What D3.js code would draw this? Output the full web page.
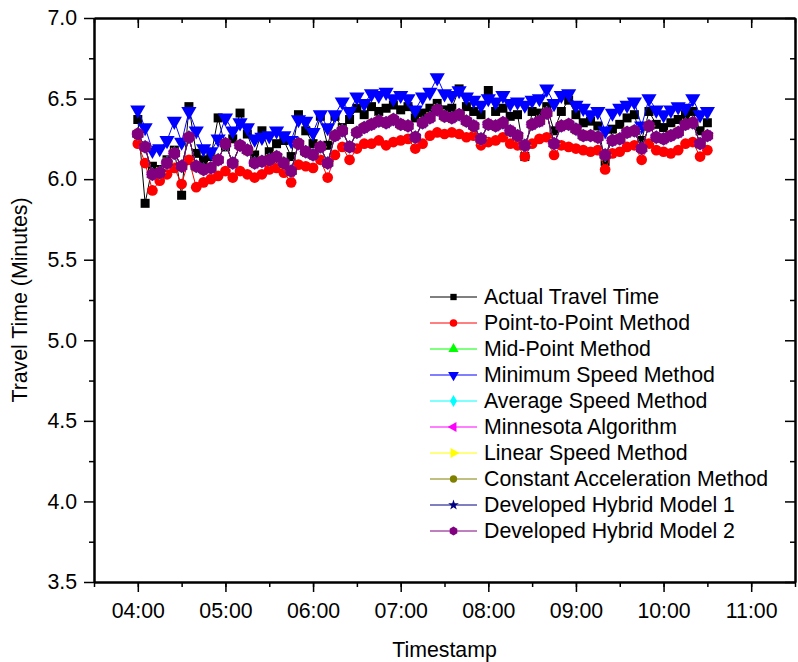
<!DOCTYPE html>
<html>
<head>
<meta charset="utf-8">
<script src="https://cdn.jsdelivr.net/npm/d3@7"></script>
<style>
  body { margin: 0; background: #fff; }
  svg text { font-family: "Liberation Sans", Arial, sans-serif; fill: #000; }
</style>
</head>
<body>
<div class="chart"></div>
<script>
var svgWidth = 798;
var svgHeight = 662;

var margin = { top: 18, right: 3, bottom: 80, left: 94 };
var width = svgWidth - margin.left - margin.right;
var height = svgHeight - margin.top - margin.bottom;
var fontSize = 21.3;

// Timestamps (5 minute steps)
var timestamps = [
  "04:00","04:05","04:10","04:15","04:20","04:25","04:30","04:35","04:40","04:45","04:50","04:55",
  "05:00","05:05","05:10","05:15","05:20","05:25","05:30","05:35","05:40","05:45","05:50","05:55",
  "06:00","06:05","06:10","06:15","06:20","06:25","06:30","06:35","06:40","06:45","06:50","06:55",
  "07:00","07:05","07:10","07:15","07:20","07:25","07:30","07:35","07:40","07:45","07:50","07:55",
  "08:00","08:05","08:10","08:15","08:20","08:25","08:30","08:35","08:40","08:45","08:50","08:55",
  "09:00","09:05","09:10","09:15","09:20","09:25","09:30","09:35","09:40","09:45","09:50","09:55",
  "10:00","10:05","10:10","10:15","10:20","10:25","10:30"
];

var actualTravelTime = [
  6.37,5.85,6.08,6.06,6.12,6.18,5.90,6.45,6.16,6.12,6.14,6.38,
  6.20,6.25,6.41,6.28,6.15,6.30,6.17,6.22,6.24,6.14,6.40,6.30,
  6.22,6.39,6.21,6.39,6.32,6.37,6.44,6.40,6.45,6.42,6.44,6.46,
  6.43,6.45,6.38,6.41,6.44,6.47,6.43,6.44,6.56,6.45,6.42,6.40,
  6.55,6.42,6.44,6.39,6.40,6.14,6.42,6.41,6.45,6.30,6.42,6.49,
  6.40,6.35,6.36,6.33,6.11,6.31,6.34,6.38,6.40,6.24,6.42,6.34,
  6.32,6.35,6.37,6.40,6.42,6.30,6.35
];

var pointToPoint = [
  6.22,6.10,5.93,5.99,6.03,6.07,5.97,6.12,5.95,5.98,6.00,6.02,
  6.05,6.01,6.05,6.03,6.01,6.03,6.06,6.07,6.04,5.98,6.09,6.08,
  6.07,6.12,6.01,6.15,6.20,6.12,6.19,6.22,6.22,6.24,6.21,6.23,
  6.24,6.25,6.19,6.22,6.27,6.29,6.28,6.29,6.28,6.26,6.27,6.21,
  6.23,6.24,6.26,6.22,6.21,6.14,6.22,6.25,6.26,6.15,6.21,6.20,
  6.19,6.18,6.17,6.18,6.06,6.16,6.17,6.20,6.21,6.12,6.22,6.18,
  6.17,6.16,6.18,6.22,6.23,6.14,6.18
];

var minimumSpeed = [
  6.43,6.32,6.18,6.19,6.24,6.36,6.23,6.42,6.30,6.19,6.17,6.25,
  6.38,6.30,6.35,6.32,6.25,6.26,6.27,6.30,6.27,6.24,6.37,6.36,
  6.29,6.40,6.32,6.40,6.48,6.42,6.51,6.47,6.53,6.52,6.54,6.50,
  6.52,6.50,6.43,6.51,6.54,6.63,6.53,6.52,6.55,6.51,6.49,6.46,
  6.50,6.48,6.52,6.47,6.48,6.46,6.49,6.50,6.56,6.47,6.52,6.53,
  6.46,6.44,6.40,6.42,6.30,6.41,6.44,6.46,6.48,6.33,6.50,6.43,
  6.40,6.43,6.45,6.44,6.50,6.40,6.42
];

// the remaining methods sit on top of each other in the picture
var hybridModel2 = [
  6.28,6.20,6.03,6.04,6.10,6.16,6.08,6.26,6.08,6.06,6.07,6.12,
  6.22,6.10,6.21,6.18,6.10,6.11,6.12,6.14,6.10,6.05,6.22,6.17,
  6.15,6.20,6.10,6.27,6.30,6.20,6.29,6.32,6.34,6.36,6.35,6.37,
  6.34,6.33,6.26,6.35,6.38,6.43,6.39,6.38,6.40,6.36,6.33,6.25,
  6.34,6.33,6.35,6.30,6.27,6.21,6.34,6.36,6.41,6.22,6.33,6.34,
  6.31,6.27,6.27,6.26,6.15,6.24,6.25,6.29,6.30,6.19,6.33,6.26,
  6.25,6.27,6.29,6.34,6.35,6.22,6.27
];
var midPoint = hybridModel2;
var averageSpeed = hybridModel2;
var minnesota = hybridModel2;
var linearSpeed = hybridModel2;
var constantAcceleration = hybridModel2;
var hybridModel1 = hybridModel2;

var yTicks = [3.5, 4.0, 4.5, 5.0, 5.5, 6.0, 6.5, 7.0];
var yMinorTicks = [3.75, 4.25, 4.75, 5.25, 5.75, 6.25, 6.75];

// custom hexagon marker
var symbolHexagon = {
  draw: function(ctx, size) {
    var r = Math.sqrt(size / 2.598);
    for (var i = 0; i < 6; i++) {
      var a = Math.PI / 3 * i + Math.PI / 6;
      if (i === 0) ctx.moveTo(r * Math.cos(a), r * Math.sin(a));
      else ctx.lineTo(r * Math.cos(a), r * Math.sin(a));
    }
    ctx.closePath();
  }
};

// size = marker area in the plot, legendSize = marker area in the legend
var series = [
  { name: "Actual Travel Time", values: actualTravelTime, color: "#000000", symbol: d3.symbolSquare, rot: 0, size: 81, legendSize: 40 },
  { name: "Point-to-Point Method", values: pointToPoint, color: "#ff0000", symbol: d3.symbolCircle, rot: 0, size: 90, legendSize: 45 },
  { name: "Mid-Point Method", values: midPoint, color: "#00ff00", symbol: d3.symbolTriangle, rot: 0, size: 60, legendSize: 45 },
  { name: "Minimum Speed Method", values: minimumSpeed, color: "#0000ff", symbol: d3.symbolTriangle, rot: 180, size: 100, legendSize: 50 },
  { name: "Average Speed Method", values: averageSpeed, color: "#00ffff", symbol: d3.symbolDiamond, rot: 0, size: 60, legendSize: 42 },
  { name: "Minnesota Algorithm", values: minnesota, color: "#ff00ff", symbol: d3.symbolTriangle, rot: -90, size: 60, legendSize: 45 },
  { name: "Linear Speed Method", values: linearSpeed, color: "#ffff00", symbol: d3.symbolTriangle, rot: 90, size: 60, legendSize: 45 },
  { name: "Constant Acceleration Method", values: constantAcceleration, color: "#808000", symbol: d3.symbolCircle, rot: 0, size: 60, legendSize: 42 },
  { name: "Developed Hybrid Model 1", values: hybridModel1, color: "#000080", symbol: d3.symbolStar, rot: 0, size: 50, legendSize: 35 },
  { name: "Developed Hybrid Model 2", values: hybridModel2, color: "#800080", symbol: symbolHexagon, rot: 0, size: 115, legendSize: 50 }
];

var parseTime = d3.timeParse("%H:%M");
var times = timestamps.map(parseTime);

var svg = d3.select(".chart")
  .append("svg")
  .attr("width", svgWidth)
  .attr("height", svgHeight);

var chartGroup = svg.append("g")
  .attr("transform", `translate(${margin.left}, ${margin.top})`);

var xScale = d3.scaleTime()
  .domain([parseTime("03:30"), parseTime("11:30")])
  .range([0, width]);

var yScale = d3.scaleLinear()
  .domain([3.5, 7.0])
  .range([height, 0]);

// series: line then markers, in legend order
series.forEach(function(s) {
  var line = d3.line()
    .x((d, i) => xScale(times[i]))
    .y(d => yScale(d));

  chartGroup.append("path")
    .datum(s.values)
    .attr("fill", "none")
    .attr("stroke", s.color)
    .attr("stroke-width", 1)
    .attr("d", line);

  chartGroup.selectAll(null)
    .data(s.values)
    .enter()
    .append("path")
    .attr("d", d3.symbol().type(s.symbol).size(s.size))
    .attr("transform", (d, i) => `translate(${xScale(times[i])}, ${yScale(d)}) rotate(${s.rot})`)
    .attr("fill", s.color);
});

// axes
var hourTicks = d3.timeHour.every(1);
var halfHourTicks = d3.timeMinute.every(30);

function styleAxis(g) {
  g.select(".domain").attr("stroke-width", 2);
  g.selectAll(".tick line").attr("stroke-width", 1.5);
  g.selectAll(".tick text").attr("font-size", fontSize).attr("font-family", '"Liberation Sans", Arial, sans-serif');
}

chartGroup.append("g")
  .attr("transform", `translate(0, ${height})`)
  .call(d3.axisBottom(xScale).ticks(halfHourTicks).tickSize(5).tickFormat("").tickSizeOuter(0))
  .call(styleAxis);
chartGroup.append("g")
  .attr("transform", `translate(0, ${height})`)
  .call(d3.axisBottom(xScale).ticks(hourTicks).tickFormat(d3.timeFormat("%H:%M")).tickSize(10).tickPadding(11).tickSizeOuter(0))
  .call(styleAxis);

chartGroup.append("g")
  .call(d3.axisTop(xScale).ticks(halfHourTicks).tickSize(-5).tickFormat("").tickSizeOuter(0))
  .call(styleAxis);
chartGroup.append("g")
  .call(d3.axisTop(xScale).ticks(hourTicks).tickSize(-10).tickFormat("").tickSizeOuter(0))
  .call(styleAxis);

chartGroup.append("g")
  .call(d3.axisLeft(yScale).tickValues(yMinorTicks).tickSize(5).tickFormat("").tickSizeOuter(0))
  .call(styleAxis);
chartGroup.append("g")
  .call(d3.axisLeft(yScale).tickValues(yTicks).tickFormat(d3.format(".1f")).tickSize(10).tickPadding(7).tickSizeOuter(0))
  .call(styleAxis);

chartGroup.append("g")
  .attr("transform", `translate(${width}, 0)`)
  .call(d3.axisRight(yScale).tickValues(yMinorTicks).tickSize(-5).tickFormat("").tickSizeOuter(0))
  .call(styleAxis);
chartGroup.append("g")
  .attr("transform", `translate(${width}, 0)`)
  .call(d3.axisRight(yScale).tickValues(yTicks).tickSize(-10).tickFormat("").tickSizeOuter(0))
  .call(styleAxis);

// axis labels
chartGroup.append("text")
  .attr("transform", "rotate(-90)")
  .attr("x", -height / 2)
  .attr("y", -67)
  .attr("text-anchor", "middle")
  .attr("font-size", fontSize)
  .text("Travel Time (Minutes)");

chartGroup.append("text")
  .attr("x", width / 2)
  .attr("y", height + 75)
  .attr("text-anchor", "middle")
  .attr("font-size", fontSize)
  .text("Timestamp");

// legend
var legend = svg.append("g")
  .attr("transform", "translate(430, 297)");

var rows = legend.selectAll("g")
  .data(series)
  .enter()
  .append("g")
  .attr("transform", (d, i) => `translate(0, ${i * 26})`);

rows.append("line")
  .attr("x1", 0).attr("x2", 47)
  .attr("y1", 0).attr("y2", 0)
  .attr("stroke", d => d.color)
  .attr("stroke-width", 1);

rows.append("path")
  .attr("d", d => d3.symbol().type(d.symbol).size(d.legendSize)())
  .attr("transform", d => `translate(23.5, 0) rotate(${d.rot})`)
  .attr("fill", d => d.color);

rows.append("text")
  .attr("x", 54)
  .attr("dy", "0.35em")
  .attr("font-size", fontSize)
  .text(d => d.name);
</script>
</body>
</html>
